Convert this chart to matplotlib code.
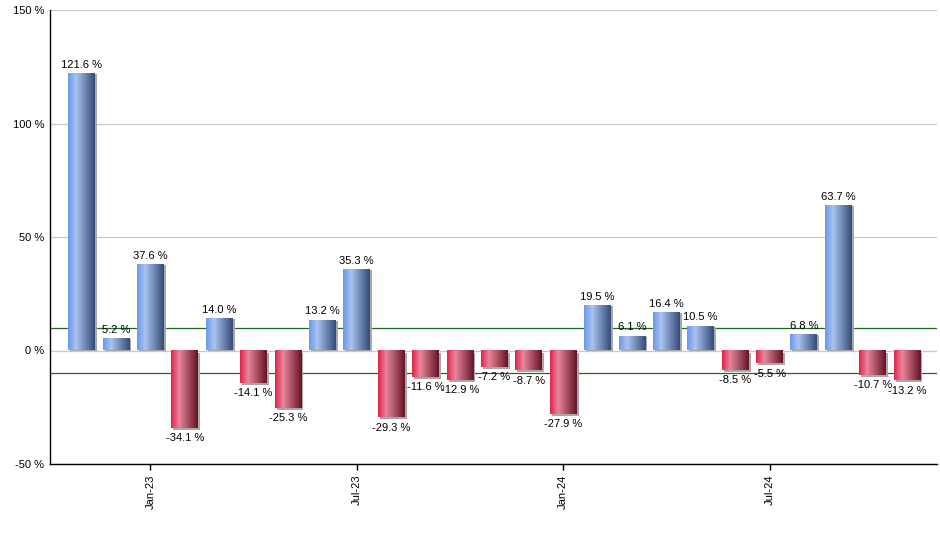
import numpy as np
import matplotlib
matplotlib.use("Agg")
import matplotlib.pyplot as plt
import matplotlib.transforms as mtransforms
from matplotlib.colors import LinearSegmentedColormap

months = ["Nov-22", "Dec-22", "Jan-23", "Feb-23", "Mar-23", "Apr-23", "May-23", "Jun-23",
          "Jul-23", "Aug-23", "Sep-23", "Oct-23", "Nov-23", "Dec-23", "Jan-24", "Feb-24",
          "Mar-24", "Apr-24", "May-24", "Jun-24", "Jul-24", "Aug-24", "Sep-24", "Oct-24", "Nov-24"]
values = [121.6, 5.2, 37.6, -34.1, 14.0, -14.1, -25.3, 13.2, 35.3, -29.3, -11.6, -12.9, -7.2,
          -8.7, -27.9, 19.5, 6.1, 16.4, 10.5, -8.5, -5.5, 6.8, 63.7, -10.7, -13.2]
tick_labels = ["Jan-23", "Jul-23", "Jan-24", "Jul-24"]
yticks = [-50, 0, 50, 100, 150]
bands = [10, -10]

plt.rcParams['font.family'] = ['Liberation Sans', 'DejaVu Sans']
fig = plt.figure(figsize=(9.4, 5.5), dpi=100)
ax = fig.add_axes([50/940, 1-464/550, 887/940, 454/550])

blue = LinearSegmentedColormap.from_list("b", [(0, "#6a98ee"), (0.3, "#aac3ef"), (0.6, "#7890bd"), (1, "#374c78")])
red = LinearSegmentedColormap.from_list("r", [(0, "#e0244c"), (0.3, "#e8859b"), (0.6, "#b0566a"), (1, "#661426")])
grad = np.linspace(0, 1, 64).reshape(1, -1)

x = np.arange(len(values))
w = 0.78
shadow_pos = mtransforms.offset_copy(ax.transData, fig=fig, x=2, y=0, units='dots')
shadow_neg = mtransforms.offset_copy(ax.transData, fig=fig, x=2, y=-2, units='dots')
for xi, v in zip(x, values):
    ax.bar(xi, v, width=w, color="#a8a8a8", transform=shadow_pos if v >= 0 else shadow_neg, zorder=2)
    cmap = blue if v >= 0 else red
    ax.imshow(grad, cmap=cmap, aspect='auto', extent=(xi - w/2, xi + w/2, 0, v), zorder=3, interpolation='bilinear')
    lbl = f"{v:.1f} %"
    if v >= 0:
        ax.annotate(lbl, (xi, v), xytext=(0, 3), textcoords='offset points', ha='center', va='bottom', fontsize=8, zorder=5)
    else:
        ax.annotate(lbl, (xi, v), xytext=(0, -4), textcoords='offset points', ha='center', va='top', fontsize=8, zorder=5)

for b in bands:
    ax.axhline(b, color="#1a6b1a", lw=0.9, zorder=1)

ax.set_ylim(-50, 150)
ax.set_xlim(-0.92, 24.87)
ax.set_yticks(yticks)
ax.set_yticklabels([f"{t} %" for t in yticks], fontsize=8)
ax.tick_params(axis='y', length=0, pad=4)
ax.yaxis.grid(True, color="#c8c8c8", lw=0.9, zorder=0)
ax.set_axisbelow(True)
tick_pos = [months.index(t) for t in tick_labels]
ax.set_xticks(tick_pos)
ax.set_xticklabels(tick_labels, rotation=90, fontsize=8)
ax.tick_params(axis='x', length=4, width=1)
for s in ['top', 'right']:
    ax.spines[s].set_visible(False)
for s in ['left', 'bottom']:
    ax.spines[s].set_color('black')
    ax.spines[s].set_linewidth(1)

fig.savefig("out.png", dpi=100)
